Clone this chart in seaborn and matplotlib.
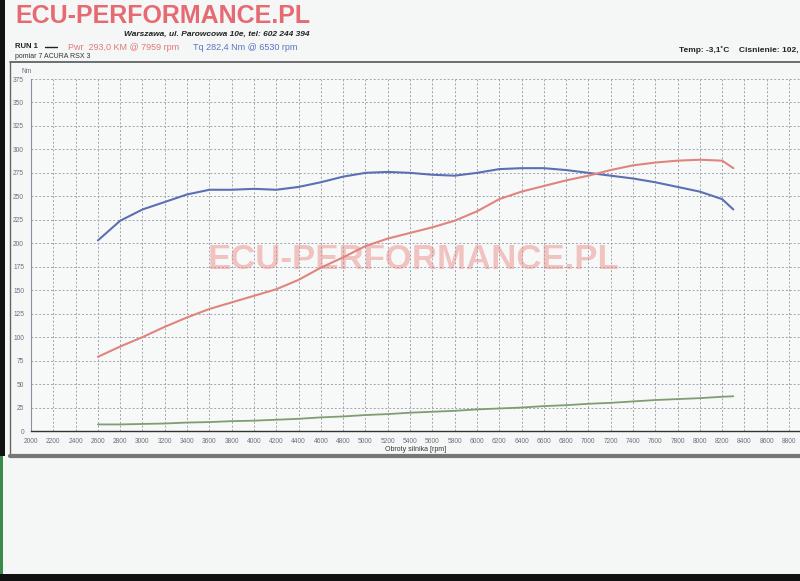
import matplotlib
matplotlib.use("Agg")
import matplotlib.pyplot as plt
import seaborn as sns
import pandas as pd
from matplotlib.lines import Line2D
from matplotlib.patches import Rectangle
from matplotlib.ticker import MultipleLocator

# values
rpm = [2600, 2800, 3000, 3200, 3400, 3600, 3800, 4000, 4200, 4400, 4600, 4800, 5000, 5200, 5400,
       5600, 5800, 6000, 6200, 6400, 6600, 6800, 7000, 7200, 7400, 7600, 7800, 8000, 8200, 8300]
torque_nm = [203, 224, 236, 244, 252, 257, 257, 258, 257, 260, 265, 271, 275, 276, 275,
             273, 272, 275, 279, 280, 280, 278, 275, 272, 269, 265, 260, 255, 247, 236]
power_km = [79, 90, 100, 111, 121, 130, 137, 144, 151, 161, 174, 185, 197, 205, 211,
            217, 224, 234, 247, 255, 261, 267, 272, 278, 283, 286, 288, 289, 288, 280]
loss_km = [7, 7, 7.5, 8, 9, 9.5, 10.5, 11, 12, 13, 14.5, 15.5, 17, 18, 19.5,
           20.5, 21.5, 23, 24, 25, 26.5, 27.5, 29, 30, 31.5, 33, 34, 35, 36.5, 37]

x_ticks = [2000, 2200, 2400, 2600, 2800, 3000, 3200, 3400, 3600, 3800, 4000, 4200, 4400, 4600,
           4800, 5000, 5200, 5400, 5600, 5800, 6000, 6200, 6400, 6600, 6800, 7000, 7200, 7400,
           7600, 7800, 8000, 8200, 8400, 8600, 8800]
y_ticks = [0, 25, 50, 75, 100, 125, 150, 175, 200, 225, 250, 275, 300, 325, 350, 375]

df = pd.DataFrame({"rpm": rpm, "Tq": torque_nm, "Pwr": power_km, "Loss": loss_km})

sns.set_style("white")
plt.rcParams["font.family"] = ["Liberation Sans", "DejaVu Sans"]

fig = plt.figure(figsize=(8, 5.81), dpi=100)
fig.patch.set_facecolor("#f5f7f7")
ax = fig.add_axes([31 / 800, 150 / 581, 769 / 800, 352 / 581])
ax.set_facecolor("#f7f9f9")

sns.lineplot(data=df, x="rpm", y="Tq", ax=ax, color="#5b70b3", lw=1.5)
sns.lineplot(data=df, x="rpm", y="Pwr", ax=ax, color="#e0847e", lw=1.5)
sns.lineplot(data=df, x="rpm", y="Loss", ax=ax, color="#7f9d72", lw=1.3)

ax.set_xlim(2000, 8898)
ax.set_ylim(0, 375)
ax.set_xticks(x_ticks)
ax.set_xticklabels([str(v) for v in x_ticks])
ax.set_yticks(y_ticks)
ax.set_yticklabels([str(v) for v in y_ticks])
ax.xaxis.set_minor_locator(MultipleLocator(50))
ax.yaxis.set_minor_locator(MultipleLocator(5))
ax.tick_params(axis="both", which="major", labelsize=4.8, labelcolor="#6a7080", length=3,
               color="#555555", pad=2)
ax.tick_params(axis="both", which="minor", length=1.5, color="#777777")
ax.grid(True, which="major", color="#a0a4ac", linestyle=(0, (2, 2)), lw=0.7)
ax.set_xlabel("Obroty silnika [rpm]", fontsize=5, color="#333333", labelpad=1)
ax.set_ylabel("")
for s in ["top", "right"]:
    ax.spines[s].set_visible(False)
ax.spines["bottom"].set_color("#333333")
ax.spines["bottom"].set_linewidth(1.0)
ax.spines["left"].set_color("#8890a0")
ax.spines["left"].set_linewidth(0.8)
ax.text(-0.012, 1.012, "Nm", transform=ax.transAxes, fontsize=4.8, color="#6a7080",
        ha="left", va="bottom")

# watermark inside the plot
ax.text(0.498, 0.487, "ECU-PERFORMANCE.PL", transform=ax.transAxes, fontsize=25,
        fontweight="bold", color="#e8807c", alpha=0.45, ha="center", va="center")

# header texts
fig.text(15 / 800, 1 - 16 / 581, "ECU-PERFORMANCE.PL", fontsize=18, fontweight="bold",
         color="#e66a72", ha="left", va="center")
fig.text(310 / 800, 1 - 34 / 581, "Warszawa, ul. Parowcowa 10e, tel: 602 244 394",
         fontsize=6, fontweight="bold", style="italic", color="#222222", ha="right", va="center")
fig.text(15 / 800, 1 - 47 / 581, "RUN 1", fontsize=5.5, fontweight="bold", color="#222222",
         va="center")
fig.add_artist(Line2D([45 / 800, 57 / 800], [1 - 47 / 581, 1 - 47 / 581], color="#222222", lw=1))
fig.text(68 / 800, 1 - 47 / 581, "Pwr  293,0 KM @ 7959 rpm", fontsize=6.5, color="#e07a78",
         va="center")
fig.text(193 / 800, 1 - 47 / 581, "Tq 282,4 Nm @ 6530 rpm", fontsize=6.5, color="#5a74c0",
         va="center")
fig.text(15 / 800, 1 - 56 / 581, "pomiar 7 ACURA RSX 3", fontsize=5, color="#333333",
         va="center")
fig.text(799 / 800, 1 - 50 / 581, "Temp: -3,1\u02daC    Cisnienie: 102,", fontsize=6,
         fontweight="bold", color="#222222", ha="right", va="center")

# panel frame
fig.add_artist(Line2D([10 / 800, 1], [1 - 62 / 581, 1 - 62 / 581], color="#555555", lw=1.2))
fig.add_artist(Line2D([10 / 800, 10 / 800], [1 - 62 / 581, 1 - 456 / 581], color="#666666", lw=1))
fig.add_artist(Line2D([10 / 800, 1], [1 - 456 / 581, 1 - 456 / 581], color="#777777", lw=3))

# scanner edges
fig.add_artist(Rectangle((0, 1 - 456 / 581), 5 / 800, 456 / 581, transform=fig.transFigure,
                         color="#111111", lw=0))
fig.add_artist(Rectangle((0, 0), 3 / 800, 1 - 456 / 581, transform=fig.transFigure,
                         color="#3a8a4a", lw=0))
fig.add_artist(Rectangle((0, 0), 1, 7 / 581, transform=fig.transFigure, color="#111111", lw=0))

fig.savefig("out.png", dpi=100, facecolor=fig.get_facecolor())
